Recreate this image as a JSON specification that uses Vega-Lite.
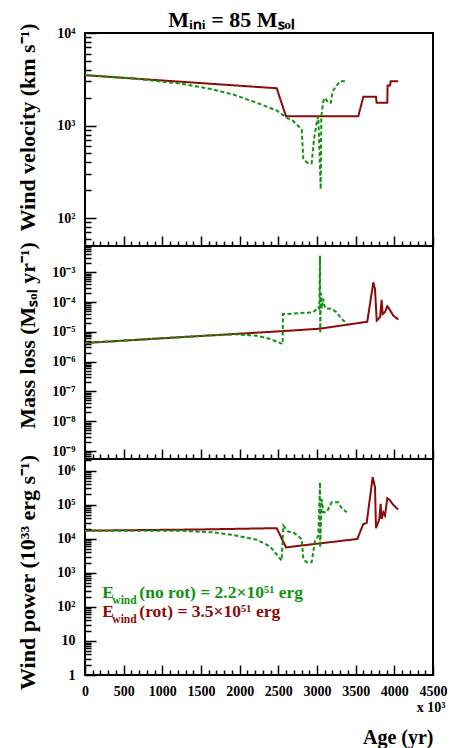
{
  "$schema": "https://vega.github.io/schema/vega-lite/v6.json",
  "padding": {"left": 14, "top": 8, "right": 0, "bottom": 0},
  "background": "white",
  "title": {"text": "Mᵢₙᵢ = 85 Mₛₒₗ", "fontSize": 22, "font": "Liberation Serif", "fontWeight": "bold", "color": "black", "anchor": "middle", "offset": -10},
  "spacing": 0,
  "bounds": "flush",
  "datasets": {
    "vel": [
      {"s": "rot", "i": 0, "t": 0, "v": 3500},
      {"s": "rot", "i": 1, "t": 2479, "v": 2529},
      {"s": "rot", "i": 2, "t": 2599, "v": 1262},
      {"s": "rot", "i": 3, "t": 3534, "v": 1262},
      {"s": "rot", "i": 4, "t": 3599, "v": 2042},
      {"s": "rot", "i": 5, "t": 3763, "v": 2042},
      {"s": "rot", "i": 6, "t": 3771, "v": 1762},
      {"s": "rot", "i": 7, "t": 3909, "v": 1762},
      {"s": "rot", "i": 8, "t": 3913, "v": 2706},
      {"s": "rot", "i": 9, "t": 3944, "v": 2706},
      {"s": "rot", "i": 10, "t": 3953, "v": 3009},
      {"s": "rot", "i": 11, "t": 4051, "v": 3009},
      {"s": "no rot", "i": 0, "t": 0, "v": 3520},
      {"s": "no rot", "i": 1, "t": 625, "v": 3221},
      {"s": "no rot", "i": 2, "t": 1228, "v": 2844},
      {"s": "no rot", "i": 3, "t": 1616, "v": 2495},
      {"s": "no rot", "i": 4, "t": 1918, "v": 2163},
      {"s": "no rot", "i": 5, "t": 2220, "v": 1762},
      {"s": "no rot", "i": 6, "t": 2479, "v": 1455},
      {"s": "no rot", "i": 7, "t": 2608, "v": 1214},
      {"s": "no rot", "i": 8, "t": 2693, "v": 1115},
      {"s": "no rot", "i": 9, "t": 2802, "v": 908},
      {"s": "no rot", "i": 10, "t": 2823, "v": 431},
      {"s": "no rot", "i": 11, "t": 2887, "v": 391},
      {"s": "no rot", "i": 12, "t": 2931, "v": 391},
      {"s": "no rot", "i": 13, "t": 2961, "v": 708},
      {"s": "no rot", "i": 14, "t": 2996, "v": 1072},
      {"s": "no rot", "i": 15, "t": 3017, "v": 1262},
      {"s": "no rot", "i": 16, "t": 3048, "v": 205},
      {"s": "no rot", "i": 17, "t": 3056, "v": 1262},
      {"s": "no rot", "i": 18, "t": 3081, "v": 1832},
      {"s": "no rot", "i": 19, "t": 3103, "v": 1995},
      {"s": "no rot", "i": 20, "t": 3146, "v": 1762},
      {"s": "no rot", "i": 21, "t": 3177, "v": 1762},
      {"s": "no rot", "i": 22, "t": 3203, "v": 2349},
      {"s": "no rot", "i": 23, "t": 3254, "v": 2706},
      {"s": "no rot", "i": 24, "t": 3297, "v": 3009},
      {"s": "no rot", "i": 25, "t": 3392, "v": 3009}
    ],
    "mdot": [
      {"s": "rot", "i": 0, "t": 0, "v": 4.25e-6},
      {"s": "rot", "i": 1, "t": 1500, "v": 7.3e-6},
      {"s": "rot", "i": 2, "t": 2479, "v": 1.03e-5},
      {"s": "rot", "i": 3, "t": 3039, "v": 1.28e-5},
      {"s": "rot", "i": 4, "t": 3650, "v": 2.19e-5},
      {"s": "rot", "i": 5, "t": 3728, "v": 4.6e-4},
      {"s": "rot", "i": 6, "t": 3750, "v": 2.75e-4},
      {"s": "rot", "i": 7, "t": 3772, "v": 2.4e-5},
      {"s": "rot", "i": 8, "t": 3815, "v": 3.1e-5},
      {"s": "rot", "i": 9, "t": 3836, "v": 1.2e-4},
      {"s": "rot", "i": 10, "t": 3849, "v": 4.0e-5},
      {"s": "rot", "i": 11, "t": 3879, "v": 4.6e-5},
      {"s": "rot", "i": 12, "t": 3909, "v": 7.2e-5},
      {"s": "rot", "i": 13, "t": 3935, "v": 5.9e-5},
      {"s": "rot", "i": 14, "t": 3987, "v": 3.5e-5},
      {"s": "rot", "i": 15, "t": 4051, "v": 2.6e-5},
      {"s": "no rot", "i": 0, "t": 0, "v": 4.25e-6},
      {"s": "no rot", "i": 1, "t": 1500, "v": 7.3e-6},
      {"s": "no rot", "i": 2, "t": 1950, "v": 8.3e-6},
      {"s": "no rot", "i": 3, "t": 2220, "v": 7.4e-6},
      {"s": "no rot", "i": 4, "t": 2392, "v": 5.8e-6},
      {"s": "no rot", "i": 5, "t": 2556, "v": 3.9e-6},
      {"s": "no rot", "i": 6, "t": 2560, "v": 4.0e-5},
      {"s": "no rot", "i": 7, "t": 2608, "v": 4.0e-5},
      {"s": "no rot", "i": 8, "t": 2952, "v": 4.55e-5},
      {"s": "no rot", "i": 9, "t": 3017, "v": 6.7e-5},
      {"s": "no rot", "i": 10, "t": 3030, "v": 6.0e-5},
      {"s": "no rot", "i": 11, "t": 3039, "v": 3.6e-3},
      {"s": "no rot", "i": 12, "t": 3042, "v": 9.8e-6},
      {"s": "no rot", "i": 13, "t": 3050, "v": 2.0e-4},
      {"s": "no rot", "i": 14, "t": 3060, "v": 6.0e-5},
      {"s": "no rot", "i": 15, "t": 3081, "v": 1.3e-4},
      {"s": "no rot", "i": 16, "t": 3103, "v": 6.2e-5},
      {"s": "no rot", "i": 17, "t": 3190, "v": 5.9e-5},
      {"s": "no rot", "i": 18, "t": 3254, "v": 4.6e-5},
      {"s": "no rot", "i": 19, "t": 3319, "v": 2.7e-5},
      {"s": "no rot", "i": 20, "t": 3392, "v": 1.85e-5}
    ],
    "pow": [
      {"s": "rot", "i": 0, "t": 0, "v": 17300},
      {"s": "rot", "i": 1, "t": 1500, "v": 18800},
      {"s": "rot", "i": 2, "t": 2479, "v": 20500},
      {"s": "rot", "i": 3, "t": 2599, "v": 5600},
      {"s": "rot", "i": 4, "t": 3521, "v": 9860},
      {"s": "rot", "i": 5, "t": 3599, "v": 27200},
      {"s": "rot", "i": 6, "t": 3642, "v": 29000},
      {"s": "rot", "i": 7, "t": 3720, "v": 644000},
      {"s": "rot", "i": 8, "t": 3750, "v": 326000},
      {"s": "rot", "i": 9, "t": 3763, "v": 20500},
      {"s": "rot", "i": 10, "t": 3806, "v": 38000},
      {"s": "rot", "i": 11, "t": 3823, "v": 106000},
      {"s": "rot", "i": 12, "t": 3836, "v": 38000},
      {"s": "rot", "i": 13, "t": 3858, "v": 60000},
      {"s": "rot", "i": 14, "t": 3879, "v": 48000},
      {"s": "rot", "i": 15, "t": 3909, "v": 155000},
      {"s": "rot", "i": 16, "t": 3935, "v": 141000},
      {"s": "rot", "i": 17, "t": 3995, "v": 94000},
      {"s": "rot", "i": 18, "t": 4051, "v": 72000},
      {"s": "no rot", "i": 0, "t": 0, "v": 17300},
      {"s": "no rot", "i": 1, "t": 1228, "v": 17300},
      {"s": "no rot", "i": 2, "t": 1659, "v": 15400},
      {"s": "no rot", "i": 3, "t": 1918, "v": 12900},
      {"s": "no rot", "i": 4, "t": 2220, "v": 9400},
      {"s": "no rot", "i": 5, "t": 2392, "v": 6000},
      {"s": "no rot", "i": 6, "t": 2543, "v": 2290},
      {"s": "no rot", "i": 7, "t": 2565, "v": 24300},
      {"s": "no rot", "i": 8, "t": 2629, "v": 16200},
      {"s": "no rot", "i": 9, "t": 2693, "v": 15500},
      {"s": "no rot", "i": 10, "t": 2802, "v": 9800},
      {"s": "no rot", "i": 11, "t": 2823, "v": 2580},
      {"s": "no rot", "i": 12, "t": 2866, "v": 2040},
      {"s": "no rot", "i": 13, "t": 2931, "v": 2040},
      {"s": "no rot", "i": 14, "t": 2974, "v": 8700},
      {"s": "no rot", "i": 15, "t": 3017, "v": 12300},
      {"s": "no rot", "i": 16, "t": 3039, "v": 455000},
      {"s": "no rot", "i": 17, "t": 3041, "v": 5600},
      {"s": "no rot", "i": 18, "t": 3060, "v": 148000},
      {"s": "no rot", "i": 19, "t": 3081, "v": 60000},
      {"s": "no rot", "i": 20, "t": 3125, "v": 60000},
      {"s": "no rot", "i": 21, "t": 3190, "v": 118000},
      {"s": "no rot", "i": 22, "t": 3275, "v": 118000},
      {"s": "no rot", "i": 23, "t": 3319, "v": 79000},
      {"s": "no rot", "i": 24, "t": 3383, "v": 60000}
    ]
  },
  "vconcat": [
    {
      "width": 348,
      "height": 213,
      "data": {"name": "vel"},
      "mark": {"type": "line", "strokeWidth": 2, "clip": true},
      "encoding": {
        "x": {"field": "t", "type": "quantitative", "scale": {"domain": [0, 4500], "nice": false, "zero": false},
          "axis": {"values": [0,100,200,300,400,500,600,700,800,900,1000,1100,1200,1300,1400,1500,1600,1700,1800,1900,2000,2100,2200,2300,2400,2500,2600,2700,2800,2900,3000,3100,3200,3300,3400,3500,3600,3700,3800,3900,4000,4100,4200,4300,4400,4500],
            "labels": false, "title": null, "tickSize": {"condition": {"test": "datum.value % 500 === 0", "value": -10}, "value": -5}}},
        "y": {"field": "v", "type": "quantitative", "scale": {"type": "log", "domain": [50, 10000], "nice": false},
          "axis": {"values": [50,60,70,80,90,100,200,300,400,500,600,700,800,900,1000,2000,3000,4000,5000,6000,7000,8000,9000,10000],
            "labelExpr": "datum.value === 10000 ? '10⁴' : datum.value === 1000 ? '10³' : datum.value === 100 ? '10²' : ''",
            "tickSize": {"condition": {"test": "indexof([100,1000,10000], datum.value) >= 0", "value": -11}, "value": -6},
            "title": "Wind velocity (km s⁻¹)", "titleX": -58, "titleY": 94, "titleBaseline": "middle"}},
        "color": {"field": "s", "type": "nominal", "scale": {"domain": ["no rot", "rot"], "range": ["#119211", "#8b0a0a"]}, "legend": null},
        "strokeDash": {"field": "s", "type": "nominal", "scale": {"domain": ["no rot", "rot"], "range": [[4, 2.5], [1, 0]]}, "legend": null},
        "order": {"field": "i", "type": "quantitative"}
      }
    },
    {
      "width": 348,
      "height": 213,
      "data": {"name": "mdot"},
      "mark": {"type": "line", "strokeWidth": 2, "clip": true},
      "encoding": {
        "x": {"field": "t", "type": "quantitative", "scale": {"domain": [0, 4500], "nice": false, "zero": false},
          "axis": {"values": [0,100,200,300,400,500,600,700,800,900,1000,1100,1200,1300,1400,1500,1600,1700,1800,1900,2000,2100,2200,2300,2400,2500,2600,2700,2800,2900,3000,3100,3200,3300,3400,3500,3600,3700,3800,3900,4000,4100,4200,4300,4400,4500],
            "labels": false, "title": null, "tickSize": {"condition": {"test": "datum.value % 500 === 0", "value": -10}, "value": -5}}},
        "y": {"field": "v", "type": "quantitative", "scale": {"type": "log", "domain": [5.4e-10, 7.64e-3], "nice": false},
          "axis": {"values": [6e-10,7e-10,8e-10,9e-10,1e-9,2e-9,3e-9,4e-9,5e-9,6e-9,7e-9,8e-9,9e-9,1e-8,2e-8,3e-8,4e-8,5e-8,6e-8,7e-8,8e-8,9e-8,1e-7,2e-7,3e-7,4e-7,5e-7,6e-7,7e-7,8e-7,9e-7,1e-6,2e-6,3e-6,4e-6,5e-6,6e-6,7e-6,8e-6,9e-6,1e-5,2e-5,3e-5,4e-5,5e-5,6e-5,7e-5,8e-5,9e-5,1e-4,2e-4,3e-4,4e-4,5e-4,6e-4,7e-4,8e-4,9e-4,1e-3,2e-3,3e-3,4e-3,5e-3,6e-3,7e-3],
            "labelExpr": "datum.value === 1e-3 ? '10⁻³' : datum.value === 1e-4 ? '10⁻⁴' : datum.value === 1e-5 ? '10⁻⁵' : datum.value === 1e-6 ? '10⁻⁶' : datum.value === 1e-7 ? '10⁻⁷' : datum.value === 1e-8 ? '10⁻⁸' : datum.value === 1e-9 ? '10⁻⁹' : ''",
            "tickSize": {"condition": {"test": "indexof([1e-9,1e-8,1e-7,1e-6,1e-5,1e-4,1e-3], datum.value) >= 0", "value": -11}, "value": -6},
            "title": "Mass loss (Mₛₒₗ yr⁻¹)", "titleX": -58, "titleY": 89, "titleBaseline": "middle"}},
        "color": {"field": "s", "type": "nominal", "scale": {"domain": ["no rot", "rot"], "range": ["#119211", "#8b0a0a"]}, "legend": null},
        "strokeDash": {"field": "s", "type": "nominal", "scale": {"domain": ["no rot", "rot"], "range": [[4, 2.5], [1, 0]]}, "legend": null},
        "order": {"field": "i", "type": "quantitative"}
      }
    },
    {
      "width": 348,
      "height": 216,
      "resolve": {"axis": {"x": "independent"}},
      "layer": [
        {
          "data": {"name": "pow"},
          "mark": {"type": "line", "strokeWidth": 2, "clip": true},
          "encoding": {
            "x": {"field": "t", "type": "quantitative", "scale": {"domain": [0, 4500], "nice": false, "zero": false},
              "axis": {"orient": "bottom", "values": [0,100,200,300,400,500,600,700,800,900,1000,1100,1200,1300,1400,1500,1600,1700,1800,1900,2000,2100,2200,2300,2400,2500,2600,2700,2800,2900,3000,3100,3200,3300,3400,3500,3600,3700,3800,3900,4000,4100,4200,4300,4400,4500],
                "labelExpr": "datum.value % 500 === 0 ? '' + datum.value : ''", "labelFontSize": 14, "labelFlush": false, "labelPadding": 19,
                "title": "Age (yr)", "titleFontSize": 20, "titleAnchor": "end", "titleY": 68, "titleBaseline": "alphabetic",
                "tickSize": {"condition": {"test": "datum.value % 500 === 0", "value": -10}, "value": -5}}},
            "y": {"field": "v", "type": "quantitative", "scale": {"type": "log", "domain": [1, 2.2e6], "nice": false},
              "axis": {"values": [1,2,3,4,5,6,7,8,9,10,20,30,40,50,60,70,80,90,100,200,300,400,500,600,700,800,900,1000,2000,3000,4000,5000,6000,7000,8000,9000,10000,20000,30000,40000,50000,60000,70000,80000,90000,100000,200000,300000,400000,500000,600000,700000,800000,900000,1000000,2000000],
                "labelExpr": "datum.value === 1 ? '1' : datum.value === 10 ? '10' : datum.value === 100 ? '10²' : datum.value === 1000 ? '10³' : datum.value === 10000 ? '10⁴' : datum.value === 100000 ? '10⁵' : datum.value === 1000000 ? '10⁶' : ''",
                "tickSize": {"condition": {"test": "indexof([1,10,100,1000,10000,100000,1000000], datum.value) >= 0", "value": -11}, "value": -6},
                "title": "Wind power (10³³ erg s⁻¹)", "titleX": -58, "titleY": 113, "titleBaseline": "middle"}},
            "color": {"field": "s", "type": "nominal", "scale": {"domain": ["no rot", "rot"], "range": ["#119211", "#8b0a0a"]}, "legend": null},
            "strokeDash": {"field": "s", "type": "nominal", "scale": {"domain": ["no rot", "rot"], "range": [[4, 2.5], [1, 0]]}, "legend": null},
            "order": {"field": "i", "type": "quantitative"}
          }
        },
        {
          "data": {"values": [{"txt": "E"}]},
          "mark": {"type": "text", "fontSize": 17.5, "fontWeight": "bold", "font": "Liberation Serif", "align": "left", "baseline": "alphabetic", "color": "#119211"},
          "encoding": {
            "x": {"datum": 224, "type": "quantitative", "axis": {"orient": "bottom", "labels": false, "ticks": false, "domain": false, "title": "x 10³", "titleFontSize": 14, "titleX": 360, "titleY": 36, "titleAlign": "right", "titleBaseline": "alphabetic"}},
            "y": {"datum": 182.5, "type": "quantitative"},
            "text": {"field": "txt"}
          }
        },
        {
          "data": {"values": [{"txt": "wind"}]},
          "mark": {"type": "text", "fontSize": 11.5, "fontWeight": "bold", "font": "Liberation Serif", "align": "left", "baseline": "alphabetic", "dx": 10, "dy": 6, "color": "#119211"},
          "encoding": {
            "x": {"datum": 224, "type": "quantitative", "axis": null},
            "y": {"datum": 182.5, "type": "quantitative"},
            "text": {"field": "txt"}
          }
        },
        {
          "data": {"values": [{"txt": "(no rot) = 2.2×10⁵¹ erg"}]},
          "mark": {"type": "text", "fontSize": 17.5, "fontWeight": "bold", "font": "Liberation Serif", "align": "left", "baseline": "alphabetic", "dx": 37, "color": "#119211"},
          "encoding": {
            "x": {"datum": 224, "type": "quantitative", "axis": null},
            "y": {"datum": 182.5, "type": "quantitative"},
            "text": {"field": "txt"}
          }
        },
        {
          "data": {"values": [{"txt": "E"}]},
          "mark": {"type": "text", "fontSize": 17.5, "fontWeight": "bold", "font": "Liberation Serif", "align": "left", "baseline": "alphabetic", "color": "#8b0a0a"},
          "encoding": {
            "x": {"datum": 224, "type": "quantitative", "axis": null},
            "y": {"datum": 49.5, "type": "quantitative"},
            "text": {"field": "txt"}
          }
        },
        {
          "data": {"values": [{"txt": "wind"}]},
          "mark": {"type": "text", "fontSize": 11.5, "fontWeight": "bold", "font": "Liberation Serif", "align": "left", "baseline": "alphabetic", "dx": 10, "dy": 6, "color": "#8b0a0a"},
          "encoding": {
            "x": {"datum": 224, "type": "quantitative", "axis": null},
            "y": {"datum": 49.5, "type": "quantitative"},
            "text": {"field": "txt"}
          }
        },
        {
          "data": {"values": [{"txt": "(rot) = 3.5×10⁵¹ erg"}]},
          "mark": {"type": "text", "fontSize": 17.5, "fontWeight": "bold", "font": "Liberation Serif", "align": "left", "baseline": "alphabetic", "dx": 37, "color": "#8b0a0a"},
          "encoding": {
            "x": {"datum": 224, "type": "quantitative", "axis": null},
            "y": {"datum": 49.5, "type": "quantitative"},
            "text": {"field": "txt"}
          }
        }
      ]
    }
  ],
  "config": {
    "font": "Liberation Serif",
    "view": {"stroke": "black", "strokeWidth": 2},
    "axis": {
      "labelFont": "Liberation Serif", "labelFontWeight": "bold", "labelFontSize": 14, "labelColor": "black",
      "titleFont": "Liberation Serif", "titleFontWeight": "bold", "titleFontSize": 22, "titleColor": "black",
      "domain": false, "grid": false, "tickColor": "black", "tickWidth": 1.5,
      "labelOverlap": false, "labelBound": false, "labelPadding": 21
    }
  }
}
